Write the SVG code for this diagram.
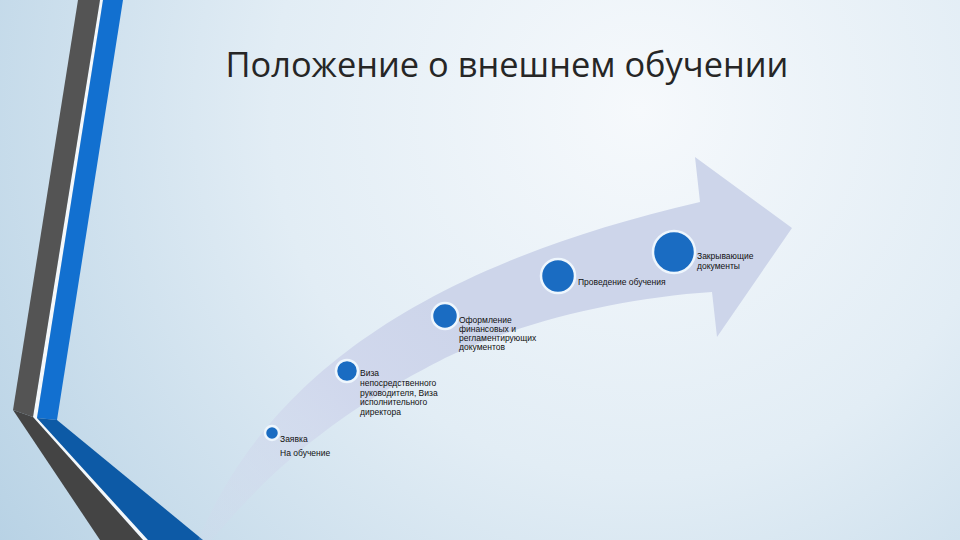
<svg xmlns="http://www.w3.org/2000/svg" width="960" height="540" viewBox="0 0 960 540">
<defs>
<radialGradient id="bg" cx="640" cy="110" r="820" gradientUnits="userSpaceOnUse">
<stop offset="0" stop-color="#f6f9fc"/>
<stop offset="0.45" stop-color="#e2edf5"/>
<stop offset="1" stop-color="#b3cfe3"/>
</radialGradient>
<linearGradient id="arr" x1="200" y1="540" x2="460" y2="320" gradientUnits="userSpaceOnUse">
<stop offset="0" stop-color="#d2d8ec" stop-opacity="0.15"/>
<stop offset="0.6" stop-color="#cfd6ec" stop-opacity="0.9"/>
<stop offset="1" stop-color="#cdd5ea" stop-opacity="1"/>
</linearGradient>
<style>
.node circle{fill:#1a6cc2;stroke:#eef6fd;stroke-width:2.5}
.lbl{font-family:"Liberation Sans","DejaVu Sans",sans-serif;font-size:8.5px;fill:#111}
.title{font-family:"Open Sans","Liberation Sans",sans-serif;font-size:35px;fill:#262626}
</style>
</defs>
<rect width="960" height="540" fill="url(#bg)"/>
<g id="stripes">
<polygon points="100,0 103,0 37,418 148,540 143,540 33,417" fill="#f4f8fb"/>
<polygon points="78,0 100,0 33,417 13,410" fill="#545454"/>
<polygon points="13,410 33,417 143,540 100,540" fill="#444444"/>
<polygon points="103,0 123,0 57,420 37,418" fill="#1270d0"/>
<polygon points="37,418 57,420 203,540 148,540" fill="#0d5aa6"/>
</g>
<text class="title" x="507" y="77" text-anchor="middle" textLength="563" lengthAdjust="spacingAndGlyphs">Положение о внешнем обучении</text>
<g id="arrow">
<path d="M196,545 C250,415 370,278 700,202 L695,157 L792,228 L717,337 L712,292 C620,298 520,322 445,358 C400,382 300,430 208,545 Z" fill="url(#arr)"/>
</g>
<g id="connectors"></g>
<g id="node1" class="node">
<circle cx="272" cy="433" r="7"/>
<text class="lbl" x="280" y="442">Заявка</text>
<text class="lbl" x="280" y="456">На обучение</text>
</g>
<g id="node2" class="node">
<circle cx="347" cy="371" r="11"/>
<text class="lbl" x="360" y="376">Виза</text>
<text class="lbl" x="360" y="386">непосредственного</text>
<text class="lbl" x="360" y="395.5">руководителя, Виза</text>
<text class="lbl" x="360" y="405">исполнительного</text>
<text class="lbl" x="360" y="414.5">директора</text>
</g>
<g id="node3" class="node">
<circle cx="445" cy="316" r="13"/>
<text class="lbl" x="459" y="323">Оформление</text>
<text class="lbl" x="459" y="332">финансовых и</text>
<text class="lbl" x="459" y="341">регламентирующих</text>
<text class="lbl" x="459" y="350">документов</text>
</g>
<g id="node4" class="node">
<circle cx="558" cy="276" r="17"/>
<text class="lbl" x="578" y="285">Проведение обучения</text>
</g>
<g id="node5" class="node">
<circle cx="674" cy="252" r="21"/>
<text class="lbl" x="697" y="259">Закрывающие</text>
<text class="lbl" x="697" y="269">документы</text>
</g>
</svg>
